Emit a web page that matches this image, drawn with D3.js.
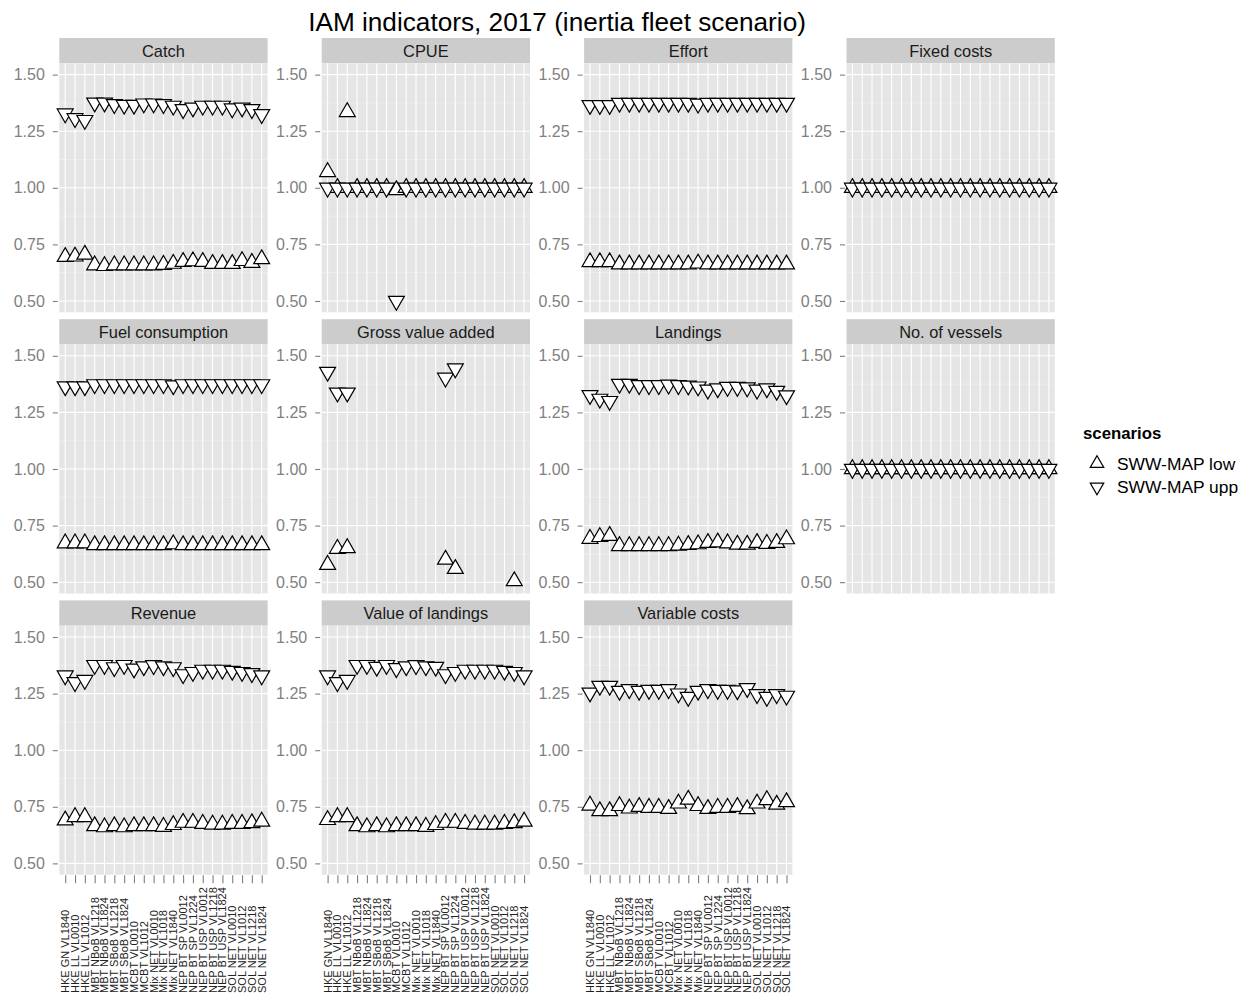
<!DOCTYPE html>
<html>
<head>
<meta charset="utf-8">
<script src="https://cdn.jsdelivr.net/npm/d3@7/dist/d3.min.js"></script>
<style>
  html, body { margin: 0; padding: 0; background: #ffffff; }
  svg { display: block; font-family: "Liberation Sans", Arial, Helvetica, sans-serif; }
</style>
</head>
<body>
<svg id="chart" width="1248" height="997"></svg>
<script>
// ---------------- DATA ----------------
const categories = [
  "HKE GN VL1840", "HKE LL VL0010", "HKE LL VL1012",
  "MBT NBoB VL1218", "MBT NBoB VL1824", "MBT SBoB VL1218", "MBT SBoB VL1824",
  "MCBT VL0010", "MCBT VL1012",
  "Mix NET VL0010", "Mix NET VL1018", "Mix NET VL1840",
  "NEP BT SP VL0012", "NEP BT SP VL1224", "NEP BT USP VL0012", "NEP BT USP VL1218", "NEP BT USP VL1824",
  "SOL NET VL0010", "SOL NET VL1012", "SOL NET VL1218", "SOL NET VL1824"
];
const indicators = [
  "Catch", "CPUE", "Effort", "Fixed costs",
  "Fuel consumption", "Gross value added", "Landings", "No. of vessels",
  "Revenue", "Value of landings", "Variable costs"
];
const scenarioNames = ["SWW-MAP low", "SWW-MAP upp"];
const yTicks = [0.50, 0.75, 1.00, 1.25, 1.50];
const yMinorTicks = [0.625, 0.875, 1.125, 1.375];

const catchLow = [0.695,0.697,0.705,0.658,0.655,0.658,0.658,0.658,0.658,0.658,0.66,0.665,0.673,0.676,0.673,0.664,0.664,0.664,0.677,0.669,0.685];
const catchUpp = [1.328,1.307,1.299,1.376,1.376,1.369,1.366,1.366,1.372,1.372,1.369,1.362,1.347,1.354,1.362,1.362,1.362,1.350,1.354,1.347,1.325];
const cpueLow  = [1.07,1.0,1.335,1.0,1.0,1.0,1.0,0.99,1.0,1.0,1.0,1.0,1.0,1.0,1.0,1.0,1.0,1.0,1.0,1.0,1.0];
const cpueUpp  = [1.0,1.0,1.0,1.0,1.0,1.0,1.0,0.50,1.0,1.0,1.0,1.0,1.0,1.0,1.0,1.0,1.0,1.0,1.0,1.0,1.0];
const effortLow = [0.672,0.672,0.672,0.662,0.662,0.662,0.662,0.662,0.662,0.662,0.662,0.666,0.662,0.662,0.662,0.662,0.662,0.662,0.662,0.662,0.662];
const effortUpp = [1.365,1.365,1.365,1.375,1.375,1.375,1.375,1.375,1.375,1.375,1.375,1.371,1.375,1.375,1.375,1.375,1.375,1.375,1.375,1.375,1.375];
const fixedLow = [1,1,1,1,1,1,1,1,1,1,1,1,1,1,1,1,1,1,1,1,1];
const fixedUpp = [1,1,1,1,1,1,1,1,1,1,1,1,1,1,1,1,1,1,1,1,1];
const fuelLow = [0.672,0.672,0.672,0.664,0.664,0.664,0.664,0.664,0.664,0.664,0.664,0.668,0.664,0.664,0.664,0.664,0.664,0.664,0.664,0.664,0.664];
const fuelUpp = [1.365,1.365,1.365,1.374,1.374,1.374,1.374,1.374,1.374,1.374,1.374,1.369,1.374,1.374,1.374,1.374,1.374,1.374,1.374,1.374,1.374];
const gvaLow = [0.577,0.648,0.651,null,null,null,null,null,null,null,null,null,0.600,0.559,null,null,null,null,null,0.505,null];
const gvaUpp = [1.429,1.337,1.337,null,null,null,null,null,null,null,null,null,1.403,1.444,null,null,null,null,null,null,null];
const landingsLow = [0.692,0.700,0.705,0.660,0.660,0.660,0.660,0.660,0.660,0.662,0.665,0.668,0.674,0.676,0.672,0.666,0.666,0.674,0.670,0.674,0.690];
const landingsUpp = [1.326,1.310,1.300,1.376,1.376,1.370,1.370,1.370,1.372,1.370,1.368,1.364,1.350,1.356,1.362,1.362,1.360,1.350,1.356,1.345,1.325];
const vesselsLow = [1,1,1,1,1,1,1,1,1,1,1,1,1,1,1,1,1,1,1,1,1];
const vesselsUpp = [1,1,1,1,1,1,1,1,1,1,1,1,1,1,1,1,1,1,1,1,1];
const revenueLow = [0.690,0.705,0.705,0.665,0.660,0.665,0.660,0.665,0.665,0.665,0.662,0.670,0.680,0.680,0.675,0.672,0.672,0.675,0.675,0.678,0.685];
const revenueUpp = [1.330,1.300,1.310,1.376,1.376,1.366,1.376,1.360,1.370,1.375,1.370,1.366,1.335,1.345,1.355,1.355,1.355,1.350,1.345,1.340,1.330];
const valueLow = [0.692,0.705,0.705,0.665,0.660,0.665,0.660,0.665,0.665,0.665,0.662,0.670,0.680,0.680,0.675,0.672,0.672,0.672,0.675,0.678,0.685];
const valueUpp = [1.330,1.300,1.310,1.376,1.376,1.368,1.376,1.362,1.370,1.375,1.370,1.368,1.335,1.345,1.355,1.355,1.355,1.355,1.350,1.345,1.330];
const varLow = [0.756,0.731,0.731,0.754,0.743,0.750,0.746,0.746,0.741,0.765,0.782,0.754,0.741,0.746,0.746,0.750,0.740,0.765,0.780,0.760,0.771];
const varUpp = [1.254,1.284,1.284,1.262,1.269,1.262,1.266,1.266,1.269,1.250,1.235,1.262,1.269,1.266,1.266,1.264,1.274,1.247,1.235,1.247,1.240];

const seriesByIndicator = [
  [catchLow, catchUpp], [cpueLow, cpueUpp], [effortLow, effortUpp], [fixedLow, fixedUpp],
  [fuelLow, fuelUpp], [gvaLow, gvaUpp], [landingsLow, landingsUpp], [vesselsLow, vesselsUpp],
  [revenueLow, revenueUpp], [valueLow, valueUpp], [varLow, varUpp]
];

// ---------------- LAYOUT ----------------
const svg = d3.select("#chart");
const ncol = 4;
const panelLeft0 = 59.3, panelPitchX = 262.4, panelW = 208.3;
const rowTop0 = 38, rowPitch = 281.2, stripH = 25.3, plotH = 249;

const grey50 = "#7f7f7f";

svg.append("text")
  .attr("x", (panelLeft0 + panelLeft0 + 3 * panelPitchX + panelW) / 2)
  .attr("y", 31)
  .attr("text-anchor", "middle")
  .attr("font-size", 26.2)
  .attr("fill", "#000")
  .text("IAM indicators, 2017 (inertia fleet scenario)");

function triPath(cx, cy, r, up) {
  const xc = r * Math.sqrt(3) / 2;
  if (up) {
    return `M${cx},${cy - r}L${cx + xc},${cy + r / 2}L${cx - xc},${cy + r / 2}Z`;
  }
  return `M${cx},${cy + r}L${cx + xc},${cy - r / 2}L${cx - xc},${cy - r / 2}Z`;
}

const nPanels = indicators.length;
indicators.forEach((name, i) => {
  const col = i % ncol, row = Math.floor(i / ncol);
  const left = panelLeft0 + col * panelPitchX;
  const stripTop = rowTop0 + row * rowPitch;
  const top = stripTop + stripH;
  const g = svg.append("g");

  const x = d3.scalePoint().domain(categories).range([left, left + panelW]).padding(0.6);
  const y = d3.scaleLinear().domain([0.45, 1.55]).range([top + plotH, top]);

  // strip
  g.append("rect").attr("x", left).attr("y", stripTop).attr("width", panelW).attr("height", stripH)
    .attr("fill", "#cccccc");
  g.append("text").attr("x", left + panelW / 2).attr("y", stripTop + stripH / 2)
    .attr("dy", "0.36em").attr("text-anchor", "middle").attr("font-size", 16.4).attr("fill", "#1a1a1a")
    .text(name);

  // panel background
  g.append("rect").attr("x", left).attr("y", top).attr("width", panelW).attr("height", plotH)
    .attr("fill", "#e5e5e5");
  // minor grid
  g.selectAll(".minor").data(yMinorTicks).enter().append("line")
    .attr("x1", left).attr("x2", left + panelW)
    .attr("y1", d => y(d)).attr("y2", d => y(d))
    .attr("stroke", "#f2f2f2").attr("stroke-width", 0.6);
  // major grid
  g.selectAll(".hmaj").data(yTicks).enter().append("line")
    .attr("x1", left).attr("x2", left + panelW)
    .attr("y1", d => y(d)).attr("y2", d => y(d))
    .attr("stroke", "#ffffff").attr("stroke-width", 1.1);
  g.selectAll(".vmaj").data(categories).enter().append("line")
    .attr("x1", d => x(d)).attr("x2", d => x(d))
    .attr("y1", top).attr("y2", top + plotH)
    .attr("stroke", "#ffffff").attr("stroke-width", 1.1);

  // y axis
  const yAxis = d3.axisLeft(y).tickValues(yTicks).tickFormat(d3.format(".2f")).tickSize(5).tickPadding(8);
  const ya = g.append("g").attr("transform", `translate(${left - 1.5},0)`).call(yAxis);
  ya.select(".domain").remove();
  ya.selectAll(".tick line").attr("stroke", grey50).attr("stroke-width", 1.1);
  ya.selectAll(".tick text").attr("fill", grey50).attr("font-size", 16)
    .attr("font-family", "'Liberation Sans', Arial, sans-serif");

  // x axis only on bottom panel of each column
  const isBottom = (i + ncol >= nPanels);
  if (isBottom && row === 2) {
    const xAxis = d3.axisBottom(x).tickSize(8).tickFormat("");
    const xa = g.append("g").attr("transform", `translate(0,${top + plotH + 0.5})`).call(xAxis);
    xa.select(".domain").remove();
    xa.selectAll(".tick line").attr("stroke", grey50).attr("stroke-width", 1.1);
    g.selectAll(".xlab").data(categories).enter().append("text")
      .attr("transform", d => `translate(${x(d)},993) rotate(-90)`)
      .attr("dy", "0.36em")
      .attr("text-anchor", "start")
      .attr("font-size", 11)
      .attr("fill", "#222")
      .text(d => d);
  }

  // points: low (up triangles) then upp (down triangles)
  const [lowArr, uppArr] = seriesByIndicator[i];
  const ptsLow = categories.map((c, k) => ({ c, v: lowArr[k] })).filter(d => d.v != null);
  const ptsUpp = categories.map((c, k) => ({ c, v: uppArr[k] })).filter(d => d.v != null);
  g.selectAll(".low").data(ptsLow).enter().append("path")
    .attr("d", d => triPath(x(d.c), y(d.v), 9.2, true))
    .attr("fill", "#ffffff").attr("stroke", "#000").attr("stroke-width", 1.2)
    .attr("stroke-linejoin", "miter");
  g.selectAll(".upp").data(ptsUpp).enter().append("path")
    .attr("d", d => triPath(x(d.c), y(d.v), 9.2, false))
    .attr("fill", "#ffffff").attr("stroke", "#000").attr("stroke-width", 1.2)
    .attr("stroke-linejoin", "miter");
});

// ---------------- LEGEND ----------------
const lg = svg.append("g");
lg.append("text").attr("x", 1083).attr("y", 439).attr("font-size", 16.8).attr("font-weight", "bold")
  .attr("fill", "#000").text("scenarios");
scenarioNames.forEach((s, k) => {
  const cy = 463.5 + k * 23.5;
  lg.append("path").attr("d", triPath(1097, cy, 7.8, k === 0))
    .attr("fill", "#ffffff").attr("stroke", "#000").attr("stroke-width", 1.2);
  lg.append("text").attr("x", 1117).attr("y", cy).attr("dy", "0.36em")
    .attr("font-size", 17.4).attr("fill", "#000").text(s);
});
</script>
</body>
</html>
